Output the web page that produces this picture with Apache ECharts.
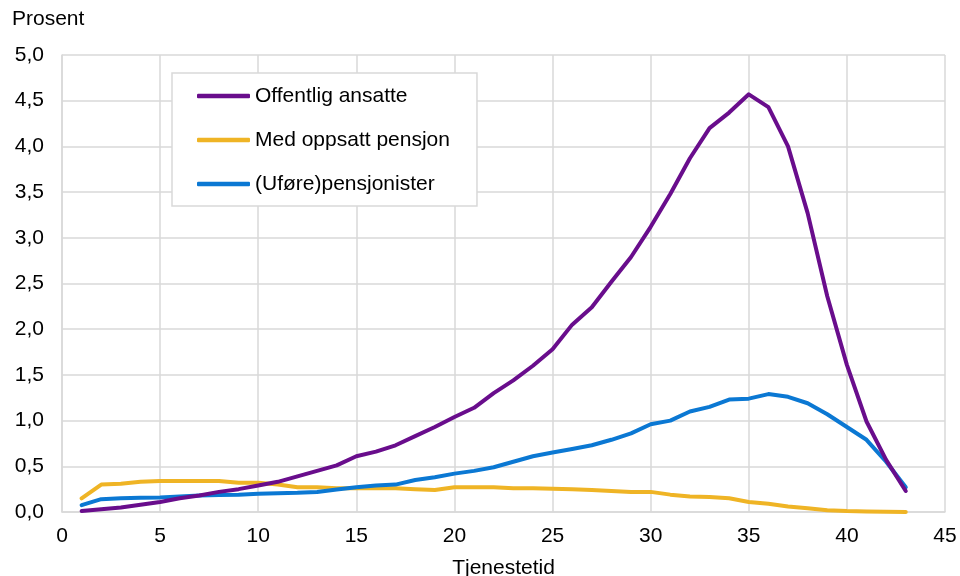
<!DOCTYPE html>
<html><head><meta charset="utf-8">
<script src="https://cdn.jsdelivr.net/npm/echarts@6/dist/echarts.min.js"></script>
<style>html,body{margin:0;padding:0;background:#fff}#c{width:960px;height:576px}</style>
</head><body><div id="c"></div>
<script>
const tjenestetid = [1,2,3,4,5,6,7,8,9,10,11,12,13,14,15,16,17,18,19,20,21,22,23,24,25,26,27,28,29,30,31,32,33,34,35,36,37,38,39,40,41,42,43];
const offentligAnsatte = [0.01,0.03,0.05,0.08,0.11,0.15,0.18,0.22,0.25,0.29,0.33,0.39,0.45,0.51,0.61,0.66,0.73,0.83,0.93,1.04,1.14,1.30,1.44,1.60,1.78,2.05,2.24,2.52,2.79,3.12,3.48,3.87,4.20,4.37,4.57,4.43,4.00,3.27,2.36,1.61,0.99,0.57,0.23];
const medOppsattPensjon = [0.15,0.30,0.31,0.33,0.34,0.34,0.34,0.34,0.32,0.32,0.30,0.27,0.27,0.26,0.26,0.26,0.26,0.25,0.24,0.27,0.27,0.27,0.26,0.26,0.255,0.25,0.24,0.23,0.22,0.22,0.19,0.17,0.165,0.15,0.11,0.09,0.06,0.04,0.02,0.01,0.006,0.003,0.0];
const ufore = [0.075,0.14,0.15,0.155,0.16,0.17,0.18,0.185,0.19,0.20,0.205,0.21,0.22,0.245,0.27,0.29,0.30,0.35,0.38,0.42,0.45,0.49,0.55,0.61,0.65,0.69,0.73,0.79,0.86,0.96,1.00,1.10,1.15,1.23,1.24,1.29,1.26,1.19,1.07,0.93,0.79,0.55,0.27];
const seriesNames = ['Offentlig ansatte','Med oppsatt pensjon','(Uføre)pensjonister'];
const colors = ['#690d8c','#efb425','#0b78d3'];

const chart = echarts.init(document.getElementById('c'), null, {renderer:'canvas'});
const font = 'Liberation Sans, Arial, sans-serif';
function pairs(v){ return tjenestetid.map((x,i)=>[x,v[i]]); }
const datas = [offentligAnsatte, medOppsattPensjon, ufore];
chart.setOption({
  animation:false,
  backgroundColor:'#fff',
  textStyle:{fontFamily:font},
  grid:{left:62,right:15,top:55,bottom:64,containLabel:false,outerBoundsMode:'none'},
  graphic:[
    {type:'text',left:12,top:9,style:{text:'Prosent',fontFamily:font,fontSize:21,fill:'#000'}}
  ],
  legend:{
    orient:'vertical',left:172,top:73,
    backgroundColor:'#fff',borderColor:'#d9d9d9',borderWidth:1.5,borderRadius:0,
    padding:[11,27,10,25],itemWidth:53,itemHeight:4.5,itemGap:20,itemTextGap:5,
    icon:'roundRect',
    textStyle:{fontFamily:font,fontSize:21,color:'#000',lineHeight:24},
    data:seriesNames
  },
  xAxis:{
    type:'value',min:0,max:45,interval:5,
    name:'Tjenestetid',nameLocation:'middle',nameGap:46,
    nameTextStyle:{fontFamily:font,fontSize:21,color:'#000'},
    axisLine:{show:true,lineStyle:{color:'#d9d9d9',width:1.5}},
    axisTick:{show:false},
    axisLabel:{fontFamily:font,fontSize:21,color:'#000',margin:14},
    splitLine:{show:true,lineStyle:{color:'#d9d9d9',width:1.5}}
  },
  yAxis:{
    type:'value',min:0,max:5,interval:0.5,
    axisLine:{show:true,lineStyle:{color:'#d9d9d9',width:1.5}},
    axisTick:{show:false},
    axisLabel:{fontFamily:font,fontSize:21,color:'#000',margin:18,formatter:v=>v.toFixed(1).replace('.',',')},
    splitLine:{show:true,lineStyle:{color:'#d9d9d9',width:1.5}}
  },
  series:seriesNames.map((n,i)=>({
    name:n,type:'line',data:pairs(datas[i]),symbol:'none',
    lineStyle:{color:colors[i],width:4,cap:'round',join:'round'},
    itemStyle:{color:colors[i]},
    z:i===2?3:(i===0?4:2)
  }))
});
</script></body></html>
